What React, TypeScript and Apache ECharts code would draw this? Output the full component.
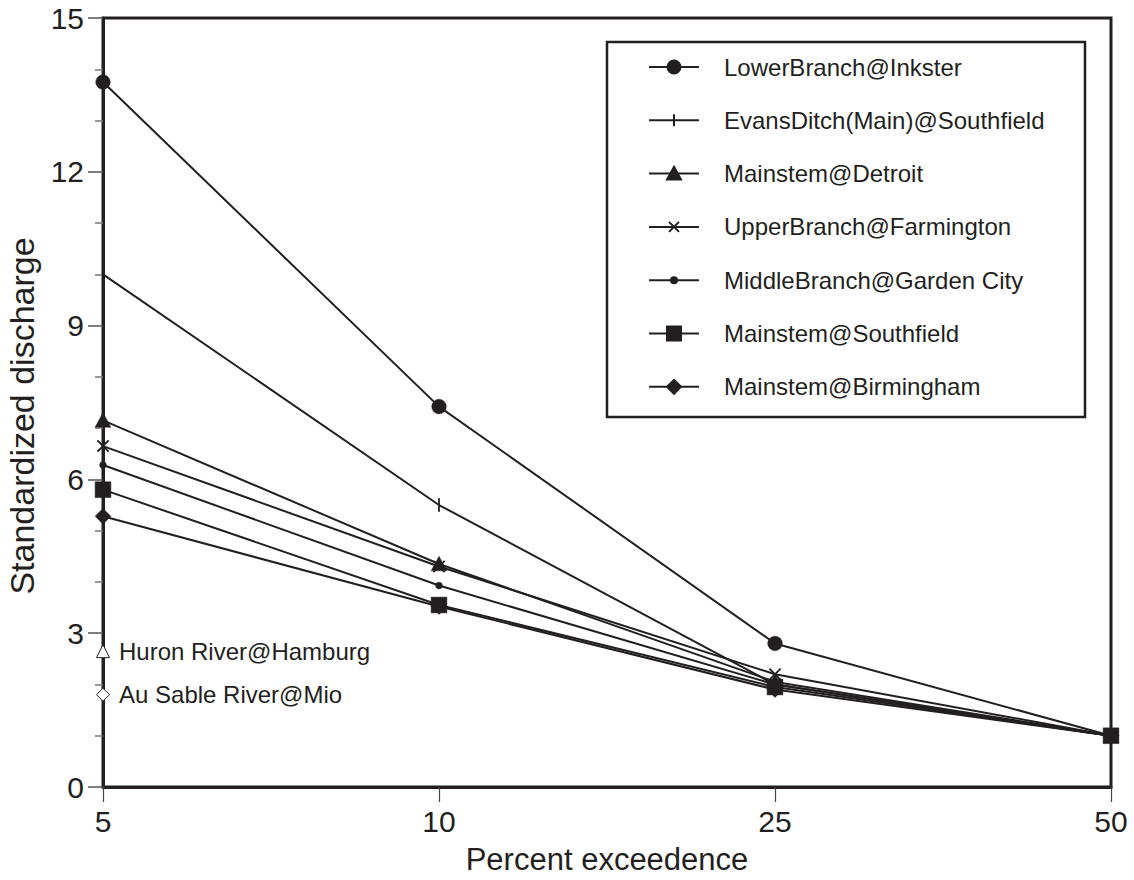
import React, { useEffect, useRef } from "react";
import * as echarts from "echarts";

const categories = ["5", "10", "25", "50"];
const seriesNames = [
  "LowerBranch@Inkster",
  "EvansDitch(Main)@Southfield",
  "Mainstem@Detroit",
  "UpperBranch@Farmington",
  "MiddleBranch@Garden City",
  "Mainstem@Southfield",
  "Mainstem@Birmingham",
];
const lowerBranchInkster = [13.75, 7.42, 2.8, 1.0];
const evansDitchSouthfield = [10.0, 5.5, 2.0, 1.0];
const mainstemDetroit = [7.15, 4.35, 2.05, 1.0];
const upperBranchFarmington = [6.65, 4.3, 2.2, 1.0];
const middleBranchGardenCity = [6.28, 3.93, 2.0, 1.0];
const mainstemSouthfield = [5.8, 3.55, 1.95, 1.0];
const mainstemBirmingham = [5.28, 3.52, 1.9, 1.0];
const seriesValues = [
  lowerBranchInkster,
  evansDitchSouthfield,
  mainstemDetroit,
  upperBranchFarmington,
  middleBranchGardenCity,
  mainstemSouthfield,
  mainstemBirmingham,
];
const referenceNames = ["Huron River@Hamburg", "Au Sable River@Mio"];
const referenceValues = [2.65, 1.8];
const yTicks = [0, 3, 6, 9, 12, 15];

const INK = "#231f20";
const BOX = "M0 0M20 20";
const symbolPaths = [
  "path://" + BOX + "M1.9 10a8.1 8.1 0 1 0 16.2 0a8.1 8.1 0 1 0 -16.2 0Z",
  "path://" + BOX + "M10 2.5L10 17.5",
  "path://" + BOX + "M10 1.5L18.75 17.5L1.25 17.5Z",
  "path://" + BOX + "M3.75 3.75L16.25 16.25M16.25 3.75L3.75 16.25",
  "path://" + BOX + "M6.25 10a3.75 3.75 0 1 0 7.5 0a3.75 3.75 0 1 0 -7.5 0Z",
  "path://" + BOX + "M1.25 1.25L18.75 1.25L18.75 18.75L1.25 18.75Z",
  "path://" + BOX + "M10 1.25L18.75 10L10 18.75L1.25 10Z",
];
const strokeOnly = [false, true, false, true, false, false, false];

export default function App() {
  const ref = useRef<HTMLDivElement>(null);
  useEffect(() => {
    if (!ref.current) return;
    const chart = echarts.init(ref.current, null, { renderer: "svg" });
    const font = "'Liberation Sans', Arial, Helvetica, sans-serif";
    const mainSeries = seriesNames.map((name, i) => ({
      name,
      type: "line",
      data: seriesValues[i],
      symbol: symbolPaths[i],
      symbolSize: 18,
      showSymbol: true,
      showAllSymbol: true,
      lineStyle: { color: INK, width: 2 },
      itemStyle: {
        color: INK,
        borderColor: INK,
        borderWidth: strokeOnly[i] ? 1.8 : 0.5,
      },
      z: 3,
    }));
    const refSeries = referenceNames.map((name, i) => ({
      name,
      type: "line",
      data: [referenceValues[i]],
      symbol: i === 0 ? "triangle" : "diamond",
      symbolSize: 13,
      lineStyle: { width: 0 },
      itemStyle: { color: "#ffffff", borderColor: INK, borderWidth: 1 },
      label: {
        show: true,
        position: "right",
        distance: 9,
        formatter: name,
        color: INK,
        fontSize: 24,
        fontFamily: font,
      },
      z: 4,
    }));
    chart.setOption({
      animation: false,
      backgroundColor: "#ffffff",
      textStyle: { fontFamily: font, color: INK },
      grid: {
        left: 103,
        right: 23,
        top: 18,
        bottom: 92,
        show: true,
        borderColor: INK,
        borderWidth: 3,
        backgroundColor: "transparent",
      },
      legend: {
        data: seriesNames,
        orient: "vertical",
        left: 648,
        top: 55,
        itemWidth: 50,
        itemHeight: 20,
        itemGap: 29.3,
        padding: 0,
        textStyle: {
          fontSize: 24,
          lineHeight: 20,
          color: INK,
          fontFamily: font,
          padding: [0, 0, 0, 20],
        },
      },
      graphic: [
        {
          type: "rect",
          shape: { x: 607, y: 42, width: 478, height: 375 },
          style: { fill: "none", stroke: INK, lineWidth: 2.5 },
          z: 10,
        },
        {
          type: "text",
          x: 22,
          y: 416,
          rotation: Math.PI / 2,
          style: {
            text: "Standardized discharge",
            fontSize: 34,
            fontFamily: font,
            fill: INK,
            align: "center",
            verticalAlign: "middle",
          },
        },
      ],
      xAxis: {
        type: "category",
        data: categories,
        boundaryGap: false,
        name: "Percent exceedence",
        nameLocation: "middle",
        nameGap: 57,
        nameTextStyle: { fontSize: 31, color: INK, fontFamily: font },
        axisLine: { lineStyle: { color: INK, width: 3 } },
        axisTick: {
          show: true,
          alignWithLabel: true,
          length: 15,
          lineStyle: { color: "#444", width: 1.2 },
        },
        axisLabel: { fontSize: 30, color: INK, margin: 19, fontFamily: font },
        splitLine: { show: false },
      },
      yAxis: {
        type: "value",
        min: yTicks[0],
        max: yTicks[yTicks.length - 1],
        interval: 3,
        axisLine: { show: true, lineStyle: { color: INK, width: 3 } },
        axisTick: { show: true, length: 15, lineStyle: { color: "#555", width: 1.5 } },
        minorTick: { show: true, splitNumber: 3, length: 8, lineStyle: { color: "#777", width: 1.5 } },
        axisLabel: { fontSize: 30, color: INK, margin: 19, fontFamily: font },
        splitLine: { show: false },
        minorSplitLine: { show: false },
      },
      series: [...mainSeries, ...refSeries],
    });
    return () => chart.dispose();
  }, []);
  return (
    <div
      ref={ref}
      style={{ position: "fixed", left: 0, top: 0, width: 1134, height: 880, background: "#fff" }}
    />
  );
}
